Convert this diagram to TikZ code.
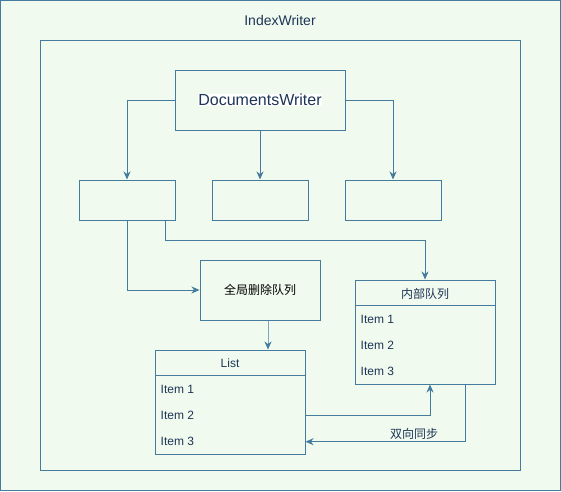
\documentclass[tikz,border=0pt]{standalone}
\usepackage{fontspec}
\setmainfont{Liberation Sans}
\newfontfamily\cjk{Noto Sans CJK SC}
\usetikzlibrary{arrows.meta}
\definecolor{ln}{HTML}{457B9D}
\definecolor{ln2}{HTML}{7FA6BE}
\definecolor{bg}{HTML}{F1FAEE}
\definecolor{tx}{HTML}{1D3557}
\tikzset{
  box/.style={draw=ln, line width=1pt, rectangle, inner sep=0pt},
  arr/.style={draw=ln, line width=1pt, -{Stealth[length=8pt,width=7pt,inset=2.5pt]}},
  arrlight/.style={draw=ln2, line width=1pt, -{Stealth[length=8pt,width=7pt,inset=2.5pt,color=ln]}},
  itemtext/.style={anchor=west, inner sep=0pt, text=tx, font=\fontsize{12}{14}\selectfont},
  captext/.style={inner sep=0pt, text=tx, font=\fontsize{12}{14}\selectfont},
}
\begin{document}
\begin{tikzpicture}[x=1pt,y=-1pt]
\useasboundingbox (0,0) rectangle (561,491);
\draw[draw=ln, fill=bg, line width=1pt] (0.5,0.5) rectangle (560.5,490.5);
\node[inner sep=0pt, text=tx, font=\fontsize{14}{16}\selectfont] (title) at (280,20) {IndexWriter};
\node[box, minimum width=480pt, minimum height=430pt] (inner) at (280,255) {};

\node[box, minimum width=170pt, minimum height=60pt] (dw) at (260,100) {};
\node[fill=white, inner sep=0.5pt, text=tx, font=\fontsize{16}{18}\selectfont] (dwt) at (dw.center) {DocumentsWriter};

\node[box, minimum width=96pt, minimum height=40pt] (b1) at (127,200) {};
\node[box, minimum width=96pt, minimum height=40pt] (b2) at (260,200) {};
\node[box, minimum width=96pt, minimum height=40pt] (b3) at (393,200) {};

\node[box, minimum width=120pt, minimum height=60pt, text=black, font=\cjk\fontsize{12}{14}\selectfont] (gq) at (260,290) {全局删除队列};

\node[box, minimum width=150pt, minimum height=104pt] (list) at (230,402) {};
\draw[draw=ln, line width=1pt] ([yshift=-26pt]list.north west) -- ([yshift=-26pt]list.north east);
\node[captext] (listh) at (230,363.5) {List};
\node[itemtext] (l1) at (160.5,389.7) {Item 1};
\node[itemtext] (l2) at (160.5,415.7) {Item 2};
\node[itemtext] (l3) at (160.5,441.7) {Item 3};

\node[box, minimum width=140pt, minimum height=104pt] (iq) at (425,332) {};
\draw[draw=ln, line width=1pt] ([yshift=-26pt]iq.north west) -- ([yshift=-26pt]iq.north east);
\node[captext, font=\cjk\fontsize{12}{14}\selectfont] (iqh) at (425,293.5) {内部队列};
\node[itemtext] (i1) at (360.5,319.7) {Item 1};
\node[itemtext] (i2) at (360.5,345.7) {Item 2};
\node[itemtext] (i3) at (360.5,371.7) {Item 3};

\draw[arr] (dw.west) -| (b1.north);
\draw[arr] (dw.south) -- (b2.north);
\draw[arr] (dw.east) -| (b3.north);
\draw[arr] (b1.south) |- (gq.west);
\draw[arr] ([xshift=-10pt]b1.south east) -- ++(0,20) -| (iq.north);
\draw[arrlight] ([xshift=8pt]gq.south) -- ([xshift=8pt]gq.south |- list.north);
\draw[arr] (list.east |- l2) -| ([xshift=5pt]iq.south);
\draw[arr] ([xshift=40pt]iq.south) |- (list.east |- l3);
\node[captext, font=\cjk\fontsize{12}{14}\selectfont] (sync) at (414,433.5) {双向同步};
\end{tikzpicture}
\end{document}
